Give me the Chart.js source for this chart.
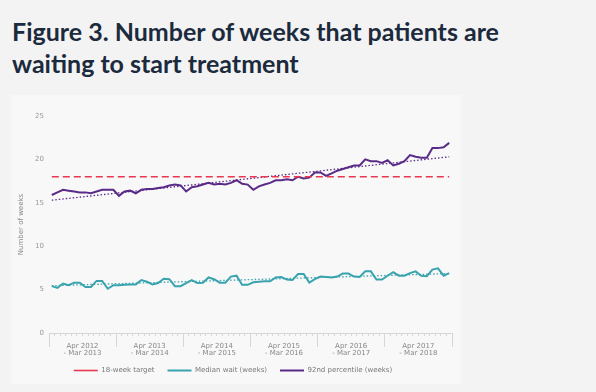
<!DOCTYPE html>
<html>
<head>
<meta charset="utf-8">
<script src="https://cdn.jsdelivr.net/npm/chart.js@4"></script>
<style>
  html, body { margin:0; padding:0; background:#f3f3f3; }
  body { width:596px; height:392px; position:relative; overflow:hidden; }
  h1 { position:absolute; left:12px; top:15px; margin:0; font:700 25px/32px Lato, sans-serif; color:#1b2a3d; }
  .panel { position:absolute; left:11px; top:95px; width:450px; height:289px; background:#f8f8f8; }
</style>
</head>
<body>
<h1>Figure 3. Number of weeks that patients are<br>waiting to start treatment</h1>
<div class="panel"><canvas id="waitChart"></canvas></div>
<script>
// Monthly values, Apr 2012 - Mar 2018 (72 months)
const yearLabels = [
  ['Apr 2012', '- Mar 2013'], ['Apr 2013', '- Mar 2014'], ['Apr 2014', '- Mar 2015'],
  ['Apr 2015', '- Mar 2016'], ['Apr 2016', '- Mar 2017'], ['Apr 2017', '- Mar 2018']
];
const medianWait = [
  5.4, 5.2, 5.7, 5.5, 5.8, 5.8, 5.3, 5.3, 6.0, 6.0, 5.1, 5.5,
  5.5, 5.55, 5.6, 5.6, 6.1, 5.9, 5.6, 5.75, 6.25, 6.2, 5.4, 5.4,
  5.75, 6.1, 5.75, 5.8, 6.4, 6.2, 5.8, 5.8, 6.5, 6.6, 5.55, 5.55,
  5.85, 5.9, 5.95, 5.95, 6.4, 6.45, 6.15, 6.1, 6.8, 6.8, 5.8, 6.2,
  6.5, 6.45, 6.4, 6.5, 6.85, 6.85, 6.5, 6.45, 7.1, 7.1, 6.15, 6.15,
  6.6, 7.0, 6.6, 6.6, 6.9, 7.1, 6.6, 6.55, 7.3, 7.45, 6.6, 6.9
];
const percentile92 = [
  15.9, 16.2, 16.5, 16.4, 16.3, 16.2, 16.2, 16.1, 16.3, 16.5, 16.5, 16.5,
  15.8, 16.3, 16.4, 16.1, 16.5, 16.6, 16.6, 16.7, 16.8, 17.0, 17.1, 17.0,
  16.3, 16.8, 16.9, 17.1, 17.3, 17.1, 17.2, 17.1, 17.3, 17.6, 17.2, 17.1,
  16.5, 16.9, 17.1, 17.3, 17.6, 17.6, 17.7, 17.6, 18.0, 17.8, 17.9, 18.5,
  18.5, 18.1, 18.4, 18.7, 18.9, 19.1, 19.3, 19.3, 20.0, 19.8, 19.8, 19.6,
  19.9, 19.3, 19.5, 19.8, 20.5, 20.3, 20.2, 20.2, 21.3, 21.3, 21.4, 21.9
];
const targetWeeks = 18;
// dotted trend lines: value at first and last month
const medianTrend = [5.45, 6.85];
const p92Trend = [15.3, 20.3];

const RED = '#e8374f', TEAL = '#39a3ae', PURPLE = '#5a2a88';
const small = { family: 'DejaVu Sans', size: 7 };

const n = medianWait.length;
const pts = arr => arr.map((v, i) => ({ x: i + 0.5, y: v }));
const ends = (a, b) => [{ x: 0.5, y: a }, { x: n - 0.5, y: b }];

new Chart(document.getElementById('waitChart'), {
  type: 'line',
  data: {
    datasets: [
      { label: '18-week target', data: ends(targetWeeks, targetWeeks), borderColor: RED, borderWidth: 1.6, borderDash: [7, 4] },
      { label: 'Median wait (weeks)', data: pts(medianWait), borderColor: TEAL, borderWidth: 2 },
      { label: '92nd percentile (weeks)', data: pts(percentile92), borderColor: PURPLE, borderWidth: 2 },
      { label: 'median trend', data: ends(medianTrend[0], medianTrend[1]), borderColor: TEAL, borderWidth: 1.3, borderDash: [1.5, 2] },
      { label: '92nd trend', data: ends(p92Trend[0], p92Trend[1]), borderColor: PURPLE, borderWidth: 1.3, borderDash: [1.5, 2] }
    ]
  },
  options: {
    responsive: true,
    maintainAspectRatio: false,
    animation: false,
    elements: { point: { radius: 0 }, line: { tension: 0, fill: false } },
    layout: { padding: { top: 21, left: 3, right: 9, bottom: 0 } },
    plugins: {
      tooltip: { enabled: false },
      legend: {
        position: 'bottom',
        labels: {
          font: small, color: '#777', usePointStyle: true, pointStyle: 'line', pointStyleWidth: 24, padding: 8,
          filter: item => item.datasetIndex < 3,
          // extra gap after the first two items (padding is kept small for the vertical position)
          generateLabels: chart => Chart.defaults.plugins.legend.labels.generateLabels(chart)
            .map(l => (l.datasetIndex < 2 ? Object.assign(l, { text: l.text + '\u2002\u2009' }) : l))
        }
      }
    },
    scales: {
      x: {
        type: 'linear', min: 0, max: 72, weight: 1,
        grid: { drawOnChartArea: false, tickLength: 14, color: '#d6d6d6' },
        border: { color: '#d6d6d6' },
        ticks: {
          stepSize: 12, autoSkip: false, maxRotation: 0, padding: -5, labelOffset: 33.5,
          color: '#888', font: { family: 'DejaVu Sans', size: 7, lineHeight: 1.1 },
          callback: v => yearLabels[v / 12] || ''
        },
        afterFit: s => { s.height = 26; }
      },
      xMinor: {
        type: 'linear', position: 'bottom', min: 0, max: 72, weight: 0,
        grid: { drawOnChartArea: false, tickLength: 3, color: '#d6d6d6' },
        border: { display: false },
        ticks: { stepSize: 1, display: false, autoSkip: false },
        afterFit: s => { s.height = 0; }
      },
      y: {
        min: 0, max: 25,
        grid: { display: false, drawTicks: false },
        border: { display: false },
        ticks: { stepSize: 5, padding: 5, color: '#999', font: small },
        title: { display: true, text: 'Number of weeks', color: '#888', font: small, padding: { top: 3, bottom: 0 } },
        afterFit: s => { s.width = 35; }
      }
    }
  }
});
</script>
</body>
</html>
